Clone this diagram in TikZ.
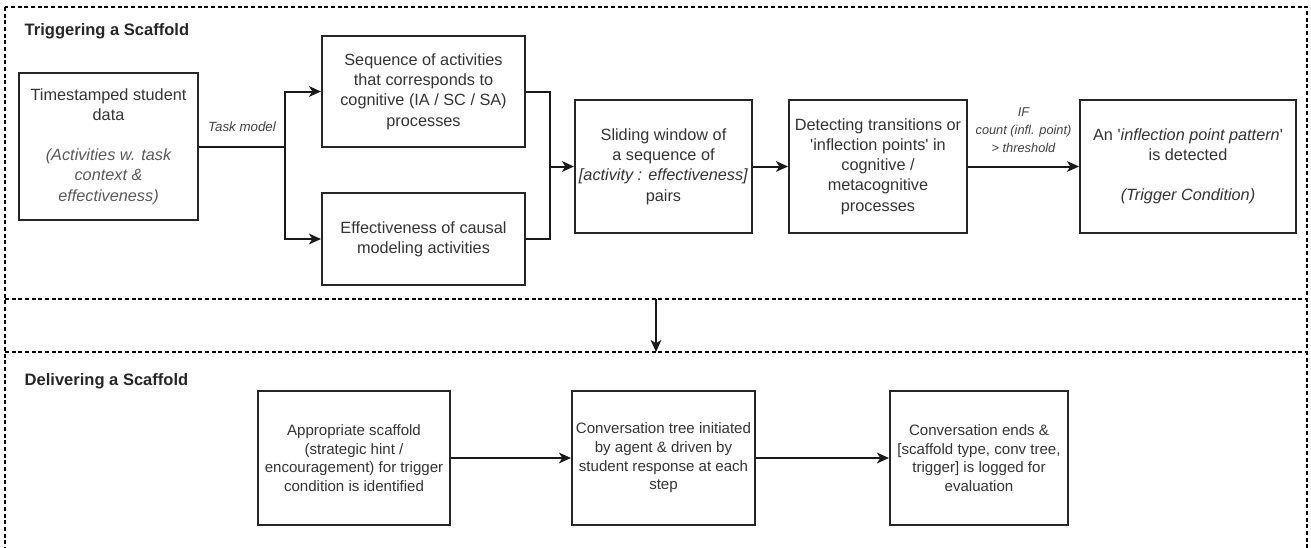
\documentclass[tikz,border=0pt]{standalone}
\usepackage{fontspec}
\setmainfont{Liberation Sans}
\usetikzlibrary{arrows.meta,positioning}

\begin{document}
\begin{tikzpicture}[x=0.75pt, y=-0.75pt, >={Stealth[length=9pt,width=8pt,inset=2.5pt]}]

\tikzstyle{every node}=[text=black!80]
\tikzstyle{box} = [rectangle, draw=black!85, line width=1.5pt, text centered, align=center, inner sep=0pt, font=\fontsize{12.2}{15.2}\selectfont]
\tikzstyle{lowbox} = [box, font=\fontsize{11.3}{14}\selectfont]
\tikzstyle{link} = [draw=black!90, line width=1.5pt]
\tikzstyle{lbl} = [font=\fontsize{9.6}{13.5}\itshape, align=center, text=black!75]
\tikzstyle{title} = [anchor=west, font=\fontsize{12.4}{15}\bfseries, text=black!85]
\tikzstyle{frame} = [draw=black, line width=1pt, dash pattern=on 3pt off 2pt]

\useasboundingbox (0,0) rectangle (1311,547);
\clip (0,0) rectangle (1311,547);

% Frame
\draw[frame] (5,7) rectangle (1307,580);
\draw[frame] (5,299) coordinate (topcut) -- (1307,299);
\draw[frame] (5,352) coordinate (botcut) -- (1307,352);
\coordinate (down1) at (656,299);
\coordinate (down2) at (656,352);
\node[title] (trig) at (20,31) {Triggering a Scaffold};
\node[title] (deliv) at (20,381) {Delivering a Scaffold};

% Nodes
\node[box, minimum width=134.25pt, minimum height=110.25pt] (data) at (108.5,146.5)
  {Timestamped student\\ data\\[15pt] {\itshape\color{black!65}(Activities w. task}\\ {\itshape\color{black!65}context \&}\\ {\itshape\color{black!65}effectiveness)}};
\node[box, minimum width=152.25pt, minimum height=83.25pt] (seq) at (423.5,91.5)
  {Sequence of activities\\ that corresponds to\\ cognitive (IA / SC / SA)\\ processes};
\node[box, minimum width=152.25pt, minimum height=69pt] (eff) at (423.5,239)
  {Effectiveness of causal\\ modeling activities};
\node[box, minimum width=132.75pt, minimum height=99.75pt] (window) at (663.5,166.5)
  {Sliding window of\\ a sequence of\\ \textit{[activity : effectiveness]}\\ pairs};
\node[box, minimum width=133.5pt, minimum height=99.75pt] (detect) at (878,166.5)
  {Detecting transitions or\\ \textquotesingle inflection points\textquotesingle\ in\\ cognitive /\\ metacognitive\\ processes};
\node[box, minimum width=162pt, minimum height=99.75pt] (pattern) at (1188,166.5)
  {An \textquotesingle\textit{inflection point pattern}\textquotesingle\\ is detected\\[15pt] \textit{(Trigger Condition)}};

\node[lowbox, minimum width=144pt, minimum height=100.5pt] (hint) at (354,458)
  {Appropriate scaffold\\ (strategic hint /\\ encouragement) for trigger\\ condition is identified};
\node[lowbox, minimum width=137.25pt, minimum height=100.5pt] (convo) at (663.5,458)
  {Conversation tree initiated\\ by agent \& driven by\\ student response at each\\ step};
\node[lowbox, minimum width=133.5pt, minimum height=100.5pt] (logged) at (979,458)
  {Conversation ends \&\\ {[}scaffold type, conv tree,\\ trigger{]} is logged for\\ evaluation};

% Lines
\draw[link] (data.east) -- node[lbl, above=7pt, font=\fontsize{10}{12}\itshape] (task) {Task model} (285,146.5) coordinate (fork);
\draw[link, ->] (fork) |- (seq.west);
\draw[link, ->] (fork) |- (eff.west);
\draw[link] (seq.east) -| (550,166.5) coordinate (join);
\draw[link] (eff.east) -| (join);
\draw[link, ->] (join) -- (window.west);
\draw[link, ->] (window) -- (detect);
\draw[link, ->] (detect) -- node[lbl, above=6pt] (cond) {IF\\ count (infl. point)\\ \textgreater{} threshold} (pattern);
\draw[link, ->] (down1) -- (down2);
\draw[link, ->] (hint) -- (convo);
\draw[link, ->] (convo) -- (logged);

\end{tikzpicture}
\end{document}
